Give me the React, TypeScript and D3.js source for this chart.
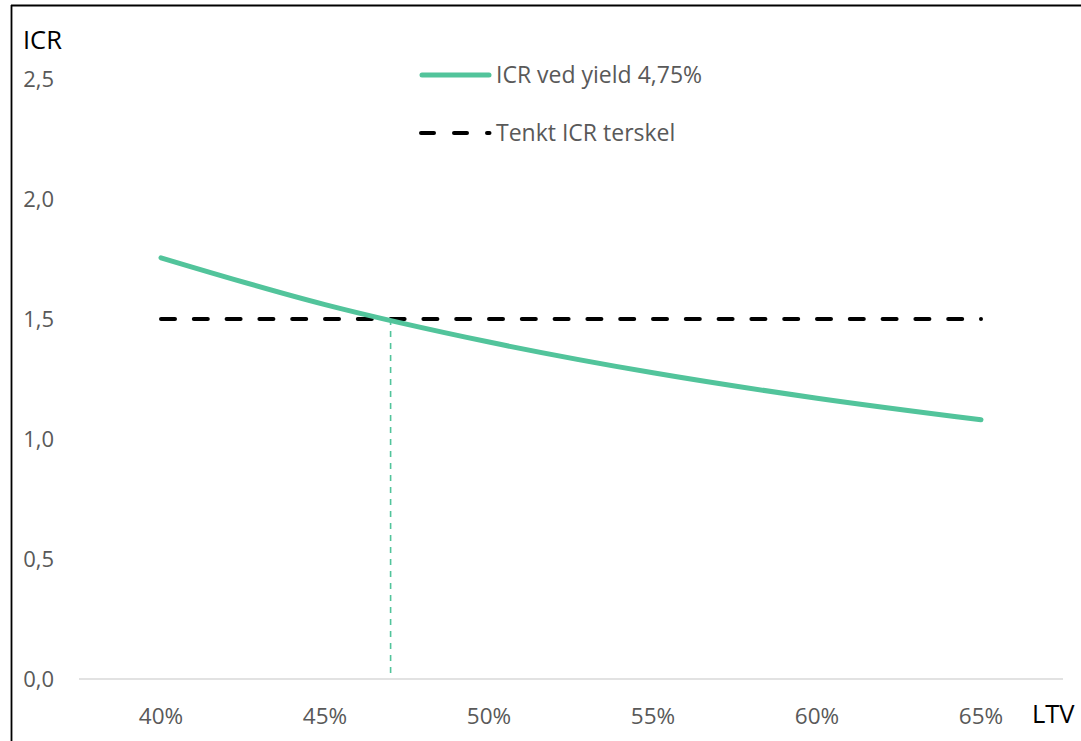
import React from "react";
import * as d3 from "d3";

const categories = ["40%", "45%", "50%", "55%", "60%", "65%"];
const ltvValues = [40, 45, 50, 55, 60, 65];
const icrValues = [1.755, 1.56, 1.404, 1.276, 1.17, 1.08];
const thresholdValue = 1.5;
const crossingLtv = 47;
const yTicks = [0, 0.5, 1.0, 1.5, 2.0, 2.5];
const seriesNames = ["ICR ved yield 4,75%", "Tenkt ICR terskel"];

const W = 1081;
const H = 741;
const GREEN = "#52c49b";
const FONT = "'Open Sans', 'Noto Sans', sans-serif";

export default function App() {
  const plotLeft = 79;
  const plotRight = 1063;
  const x = d3.scaleBand<string>().domain(categories).range([plotLeft, plotRight]);
  const xc = (c: string) => (x(c) as number) + x.bandwidth() / 2;
  const xl = d3
    .scaleLinear()
    .domain([ltvValues[0], ltvValues[ltvValues.length - 1]])
    .range([xc(categories[0]), xc(categories[categories.length - 1])]);
  const y = d3.scaleLinear().domain([0, 2.5]).range([679, 79]);

  const pts: [number, number][] = ltvValues.map((v, i) => [xl(v), y(icrValues[i])]);
  const line = d3.line<[number, number]>().curve(d3.curveCatmullRom.alpha(0.5))(pts) || "";

  return (
    <svg width={W} height={H} style={{ display: "block", position: "absolute", left: 0, top: 0 }} fontFamily={FONT}>
      <rect x={0} y={0} width={W} height={H} fill="#fff" />
      <line x1={11.5} x2={11.5} y1={5} y2={H} stroke="#000" strokeWidth={1.8} />
      <line x1={11} x2={W} y1={5.5} y2={5.5} stroke="#000" strokeWidth={1.8} />

      {/* axis line */}
      <line x1={plotLeft} x2={plotRight} y1={y(0)} y2={y(0)} stroke="#d9d9d9" strokeWidth={1.5} />

      {/* y ticks */}
      {yTicks.map((t) => (
        <text key={t} x={54} y={y(t)} dy="0.35em" textAnchor="end" fontSize={22} fill="#595959">
          {d3.format(".1f")(t).replace(".", ",")}
        </text>
      ))}
      {/* x ticks */}
      {categories.map((c) => (
        <text key={c} x={xc(c)} y={716} dy="0.35em" textAnchor="middle" fontSize={22.5} fill="#595959">
          {c}
        </text>
      ))}

      <text x={23} y={40} dy="0.35em" fontSize={25.5} fill="#000">ICR</text>
      <text x={1032} y={714} dy="0.35em" fontSize={25.5} fill="#000">LTV</text>

      {/* vertical marker */}
      <line
        x1={xl(crossingLtv)}
        x2={xl(crossingLtv)}
        y1={y(thresholdValue)}
        y2={y(0)}
        stroke={GREEN}
        strokeWidth={1.6}
        strokeDasharray="6,6"
      />

      {/* threshold */}
      <line
        x1={xl(ltvValues[0])}
        x2={xl(ltvValues[ltvValues.length - 1])}
        y1={y(thresholdValue)}
        y2={y(thresholdValue)}
        stroke="#000"
        strokeWidth={4}
        strokeDasharray="14,18.8"
        strokeLinecap="round"
      />

      {/* series */}
      <path d={line} fill="none" stroke={GREEN} strokeWidth={5} strokeLinecap="round" />

      {/* legend */}
      <line x1={422} x2={489} y1={75} y2={75} stroke={GREEN} strokeWidth={5} strokeLinecap="round" />
      <text x={496} y={75} dy="0.35em" fontSize={23} fill="#595959">{seriesNames[0]}</text>
      <line
        x1={421}
        x2={489.5}
        y1={133}
        y2={133}
        stroke="#000"
        strokeWidth={4}
        strokeDasharray="13,20"
        strokeLinecap="round"
      />
      <text x={496} y={133} dy="0.35em" fontSize={23} fill="#595959">{seriesNames[1]}</text>
    </svg>
  );
}
